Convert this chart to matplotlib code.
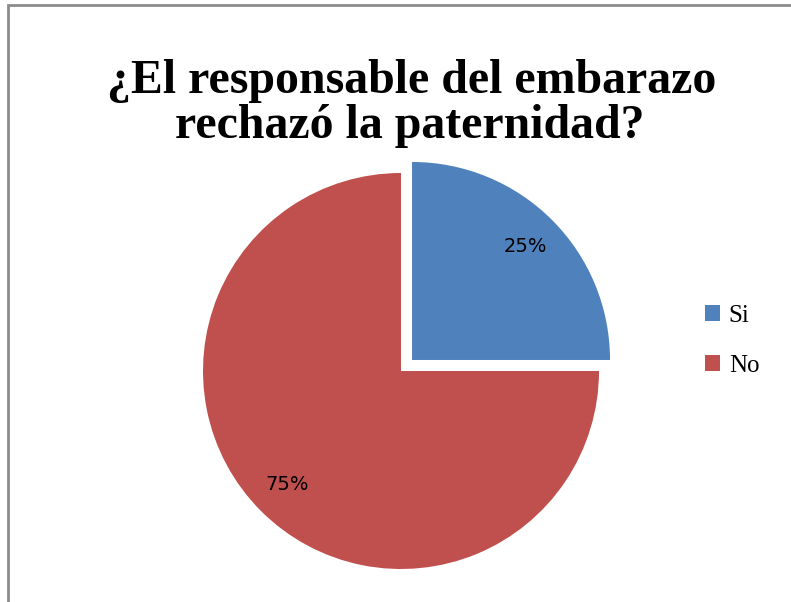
import matplotlib.pyplot as plt
from matplotlib.patches import Rectangle

# Datos de la encuesta
categorias = ["Si", "No"]
porcentajes = [25, 75]
colores = ["#4F81BD", "#C0504D"]

W, H = 791, 602

fig = plt.figure(figsize=(W / 100, H / 100), dpi=100)
ax = fig.add_axes([0, 0, 1, 1])
ax.set_xlim(0, W)
ax.set_ylim(0, H)
ax.set_aspect("equal")
ax.axis("off")

# marco del gráfico (sólo se ven los lados izquierdo y superior)
fig.patches.append(Rectangle((8 / W, -0.1), 1, 1.1 - 5 / H, transform=fig.transFigure,
                             fill=False, edgecolor="#8c8c8c", linewidth=2))

# el explode de matplotlib va en unidades de datos
wedges, textos, autotextos = ax.pie(
    porcentajes, colors=colores, startangle=90, counterclock=False,
    center=(401, H - 371), radius=198, explode=[15.6, 0],
    autopct="%1.0f%%", pctdistance=0.81,
    textprops=dict(fontsize=14, family="DejaVu Sans", color="black"),
    wedgeprops=dict(linewidth=0))
ax.set_xlim(0, W)
ax.set_ylim(0, H)

titulo = dict(fontsize=34.5, fontweight="bold", family="Liberation Serif",
              ha="center", va="baseline")
fig.text(412 / W, 1 - 93 / H, "¿El responsable del embarazo", **titulo)
fig.text(410 / W, 1 - 138 / H, "rechazó la paternidad?", **titulo)

fig.legend(wedges, categorias, loc="upper left", bbox_to_anchor=(705 / W, 1 - 305 / H),
           frameon=False, borderpad=0, borderaxespad=0, handlelength=0.6,
           handleheight=0.6, handletextpad=0.35, labelspacing=1.1,
           prop=dict(family="Liberation Serif", size=18))

fig.savefig("out.png", dpi=100)
